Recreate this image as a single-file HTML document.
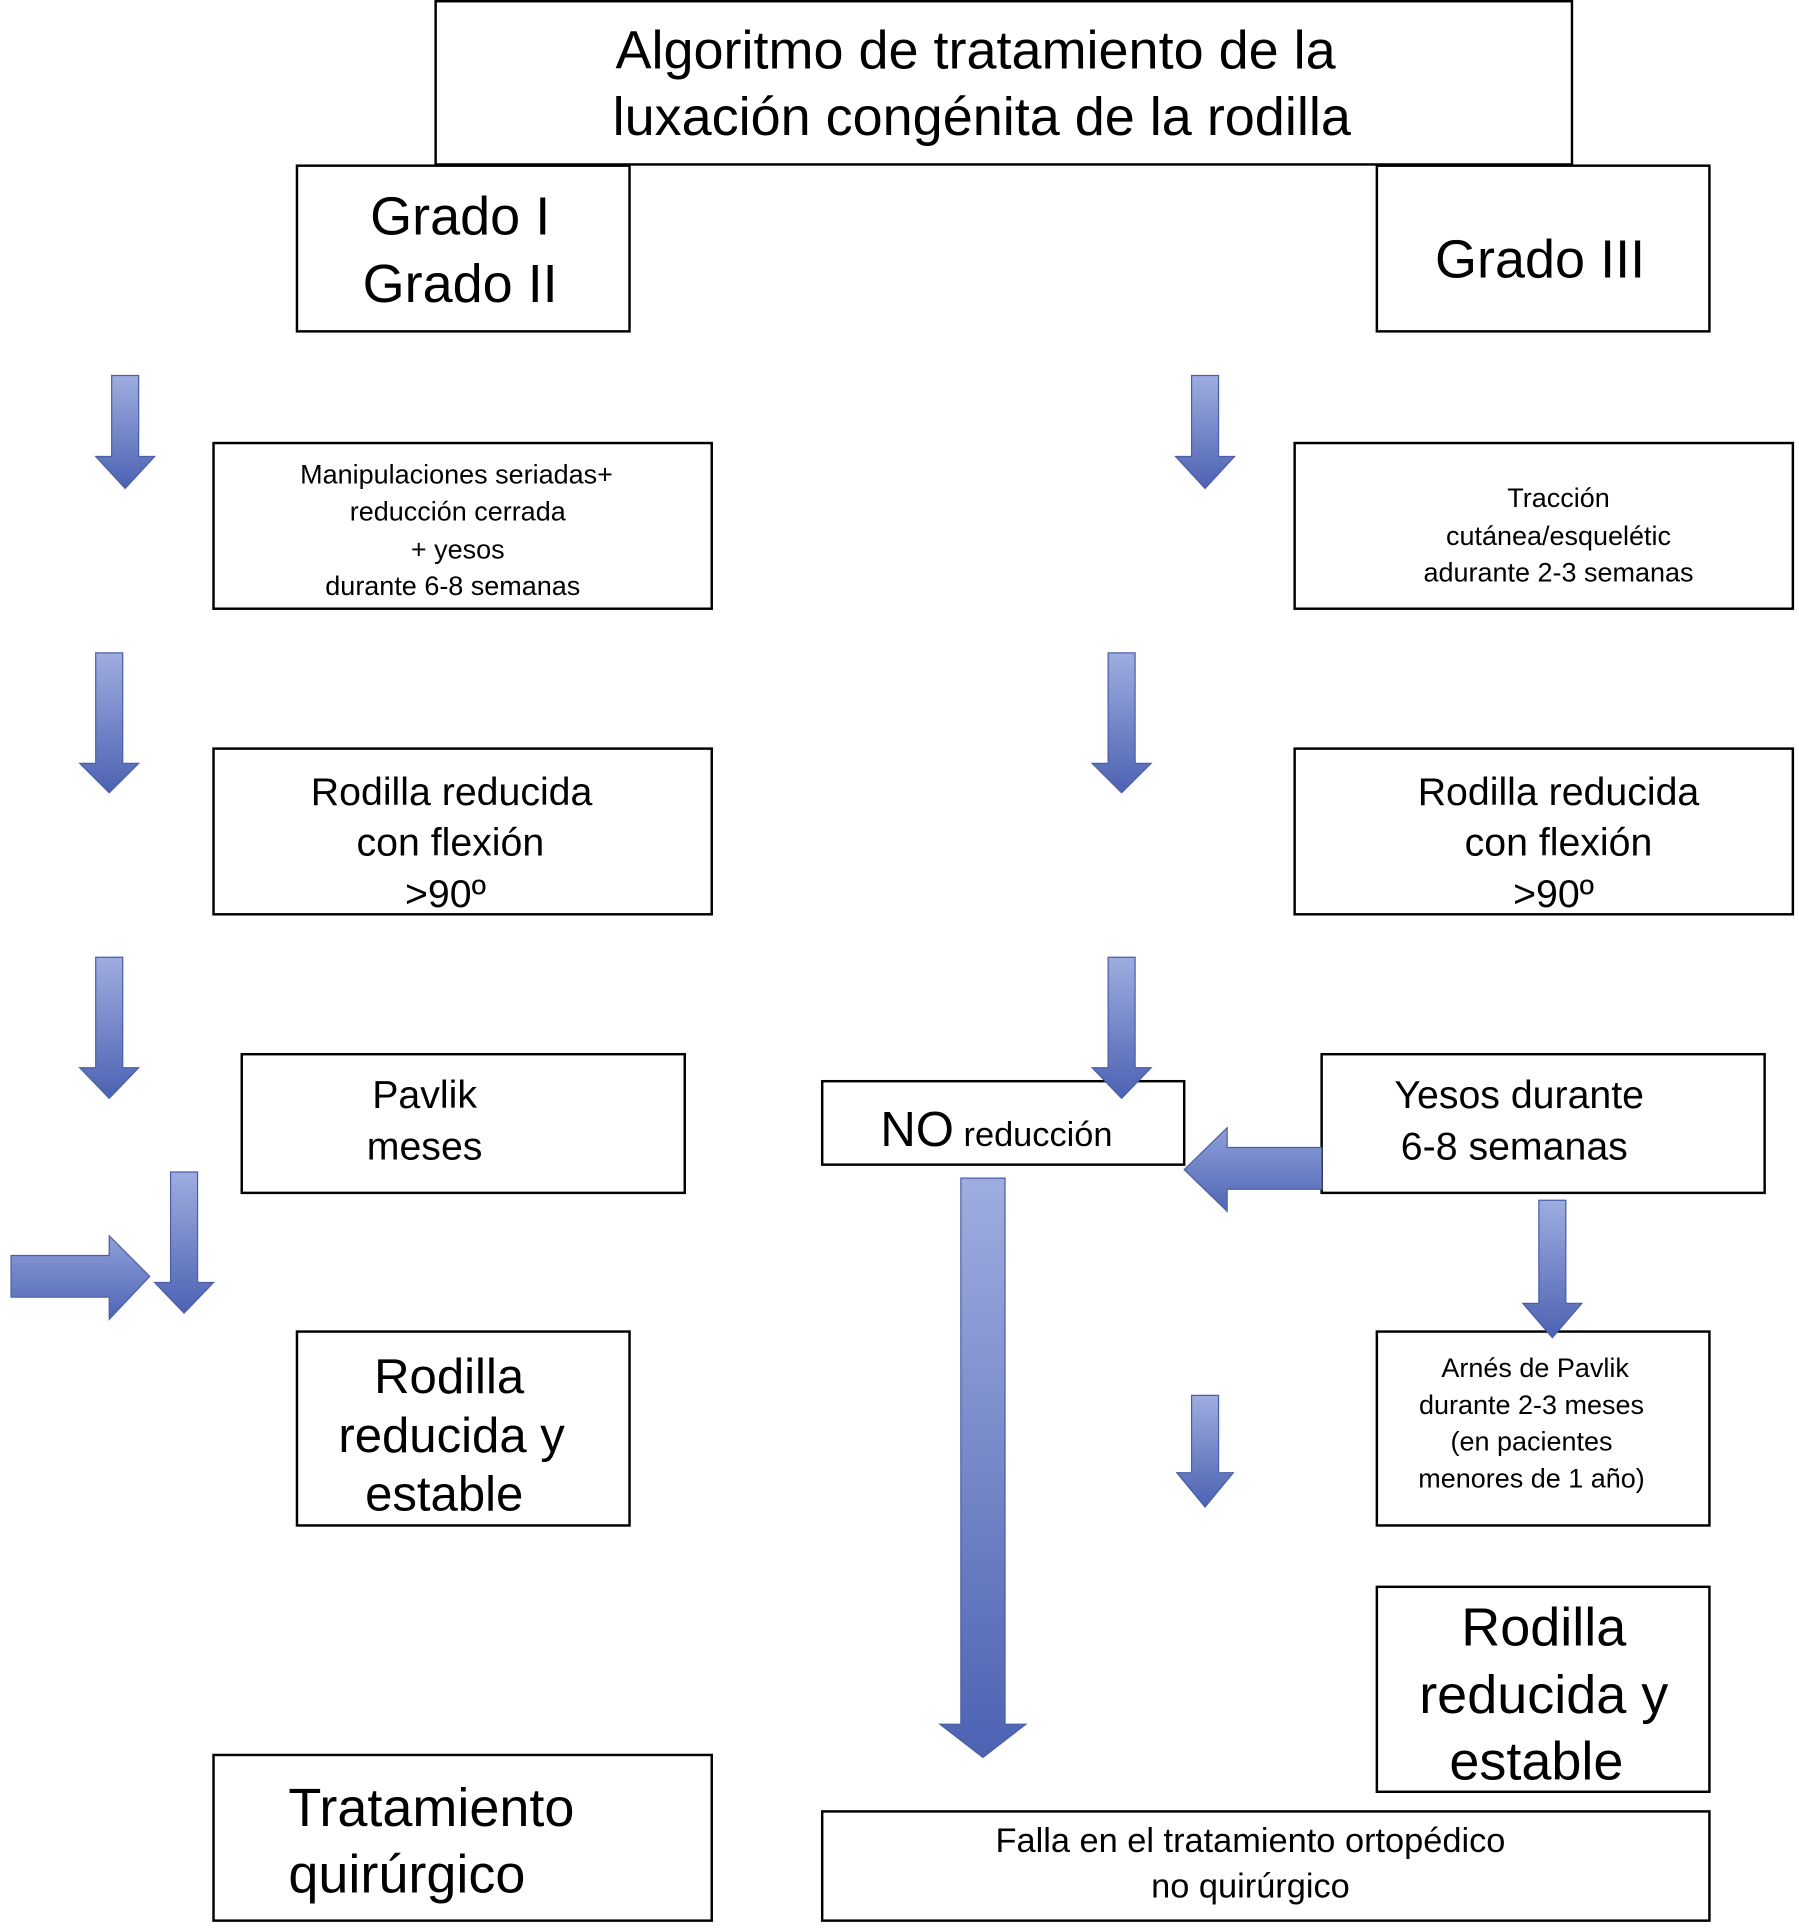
<!DOCTYPE html>
<html><head><meta charset="utf-8"><style>html,body{margin:0;padding:0;background:#fff}svg{display:block}</style></head>
<body>
<svg width="1799" height="1928" viewBox="0 0 1466 1571" preserveAspectRatio="none" xmlns="http://www.w3.org/2000/svg" font-family="Liberation Sans, Arial, sans-serif">
<defs>
<linearGradient id="gv" x1="0" y1="0" x2="0" y2="1"><stop offset="0" stop-color="#9eaddf"/><stop offset="1" stop-color="#4d62b3"/></linearGradient>
<linearGradient id="gh" x1="0" y1="0" x2="0" y2="1"><stop offset="0" stop-color="#8f9fd8"/><stop offset="1" stop-color="#5066b6"/></linearGradient>
</defs>
<g fill="#fff" stroke="#000" stroke-width="2">
<rect x="355" y="1" width="926" height="133"/>
<rect x="242" y="135" width="271" height="135"/>
<rect x="1122" y="135" width="271" height="135"/>
<rect x="174" y="361" width="406" height="135"/>
<rect x="1055" y="361" width="406" height="135"/>
<rect x="174" y="610" width="406" height="135"/>
<rect x="1055" y="610" width="406" height="135"/>
<rect x="197" y="859" width="361" height="113"/>
<rect x="1077" y="859" width="361" height="113"/>
<rect x="670" y="881" width="295" height="68"/>
<rect x="242" y="1085" width="271" height="158"/>
<rect x="1122" y="1085" width="271" height="158"/>
<rect x="1122" y="1293" width="271" height="167"/>
<rect x="174" y="1430" width="406" height="135"/>
<rect x="670" y="1476" width="723" height="89"/>
</g>
<g fill="url(#gv)" stroke="#4a5fa8" stroke-width="1">
<path d="M91 306h22v66h13l-24 26l-24-26h13z"/>
<path d="M78 532h22v90h13l-24 24l-24-24h13z"/>
<path d="M78 780h22v90h13l-24 25l-24-25h13z"/>
<path d="M139 955h22v90h13l-24 25l-24-25h13z"/>
<path d="M971 306h22v66h13l-24 26l-24-26h13z"/>
<path d="M903 532h22v90h13l-24 24l-24-24h13z"/>
<path d="M903 780h22v90h13l-24 25l-24-25h13z"/>
<path d="M783 960h36v445h17l-35 27l-35-27h17z"/>
<path d="M1254 978h22v84h13l-24 28l-24-28h13z"/>
<path d="M971 1137h22v63h12l-23 28l-23-28h12z"/>
</g>
<g fill="url(#gh)" stroke="#4a5fa8" stroke-width="1">
<path d="M9 1023h80v-16l33 33l-33 35v-18h-80z"/>
<path d="M1077 935h-77v-16l-35 34l35 34v-18h77z"/>
</g>
<g fill="#000" text-anchor="middle">
<text x="795" y="56" font-size="44">Algoritmo de tratamiento de la</text>
<text x="800" y="110" font-size="44">luxación congénita de la rodilla</text>
<text x="375" y="191" font-size="44">Grado I</text>
<text x="375" y="246" font-size="44">Grado II</text>
<text x="1255" y="226" font-size="44">Grado III</text>
<g font-size="22">
<text x="372" y="394">Manipulaciones seriadas+</text>
<text x="373" y="424">reducción cerrada</text>
<text x="373" y="455">+ yesos</text>
<text x="369" y="485">durante 6-8 semanas</text>
<text x="1270" y="413">Tracción</text>
<text x="1270" y="444">cutánea/esquelétic</text>
<text x="1270" y="474">adurante 2-3 semanas</text>
<text x="1251" y="1122">Arnés de Pavlik</text>
<text x="1248" y="1152">durante 2-3 meses</text>
<text x="1248" y="1182">(en pacientes</text>
<text x="1248" y="1212">menores de 1 año)</text>
</g>
<g font-size="32">
<text x="368" y="656">Rodilla reducida</text>
<text x="367" y="697">con flexión</text>
<text x="363" y="739">&gt;90º</text>
<text x="1270" y="656">Rodilla reducida</text>
<text x="1270" y="697">con flexión</text>
<text x="1266" y="739">&gt;90º</text>
<text x="346" y="903">Pavlik</text>
<text x="346" y="945">meses</text>
<text x="1238" y="903">Yesos durante</text>
<text x="1234" y="945">6-8 semanas</text>
</g>
<text x="812" y="934"><tspan font-size="40">NO</tspan><tspan font-size="28"> reducción</tspan></text>
<g font-size="40">
<text x="366" y="1135">Rodilla</text>
<text x="368" y="1183">reducida y</text>
<text x="362" y="1231">estable</text>
</g>
<g font-size="44">
<text x="1258" y="1341">Rodilla</text>
<text x="1258" y="1396">reducida y</text>
<text x="1252" y="1450">estable</text>
<text x="235" y="1488" text-anchor="start">Tratamiento</text>
<text x="235" y="1542" text-anchor="start">quirúrgico</text>
</g>
<g font-size="28">
<text x="1019" y="1509">Falla en el tratamiento ortopédico</text>
<text x="1019" y="1546">no quirúrgico</text>
</g>
</g>
</svg>
</body></html>
